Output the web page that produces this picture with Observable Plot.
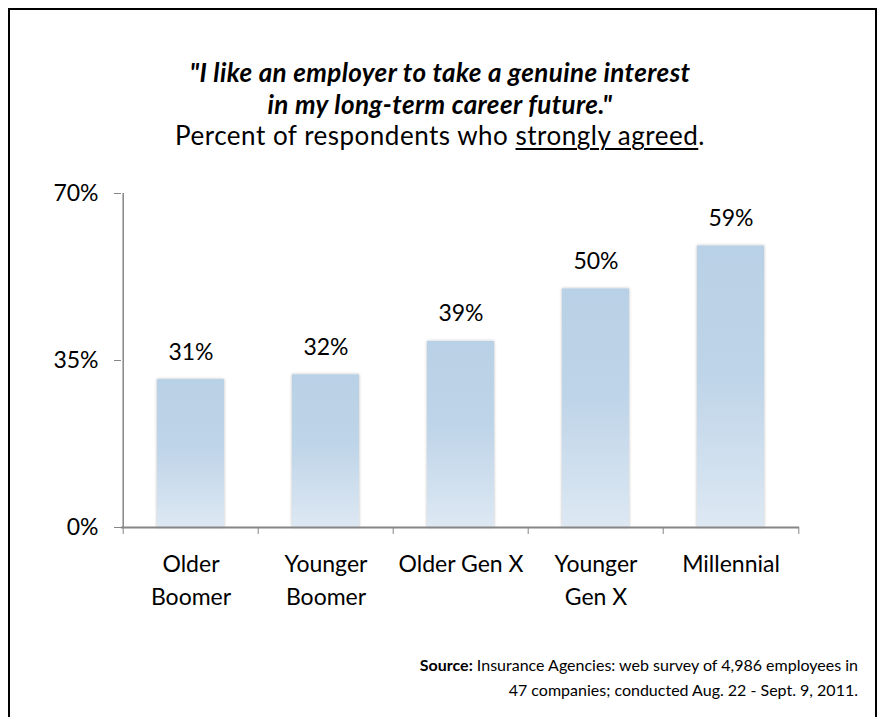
<!DOCTYPE html>
<html>
<head>
<meta charset="utf-8">
<script src="https://cdn.jsdelivr.net/npm/d3@7"></script>
<script src="https://cdn.jsdelivr.net/npm/@observablehq/plot@0.6"></script>
<style>
  html, body { margin: 0; padding: 0; background: #fff; }
  body { width: 880px; height: 717px; position: relative; overflow: hidden; font-family: Lato, "Open Sans", sans-serif; color: #000; }
  #frame { position: absolute; left: 8px; top: 8px; width: 869px; height: 720px; border: 2px solid #000; box-sizing: border-box; }
  .t { position: absolute; left: 0; width: 880px; text-align: center; white-space: nowrap; line-height: 31.5px; }
  #title { top: 57px; font-weight: bold; font-style: italic; font-size: 26px; letter-spacing: 0.4px; }
  #subtitle { top: 120px; font-size: 26px; letter-spacing: 0.5px; }
  #subtitle u { text-decoration-thickness: 1.5px; text-underline-offset: 3px; }
  #chart { position: absolute; left: 0; top: 160px; }
  #source { position: absolute; right: 22px; top: 652px; text-align: right; font-size: 16px; line-height: 25px; }
</style>
</head>
<body>
<div id="frame"></div>
<div class="t" id="title">"I like an employer to take a genuine interest<br>in my long-term career future."</div>
<div class="t" id="subtitle">Percent of respondents who <u>strongly agreed</u>.</div>
<div id="chart"></div>
<div id="source"><b>Source:</b> Insurance Agencies: web survey of 4,986 employees in<br>47 companies; conducted Aug. 22 - Sept. 9, 2011.</div>
<script>
const categories = ["Older Boomer", "Younger Boomer", "Older Gen X", "Younger Gen X", "Millennial"];
const categoryLabels = ["Older\nBoomer", "Younger\nBoomer", "Older Gen X", "Younger\nGen X", "Millennial"];
const values = [31, 32, 39, 50, 59];
const yTicks = [0, 35, 70];

const data = categories.map((c, i) => ({category: c, value: values[i]}));
const labelOf = new Map(categories.map((c, i) => [c, categoryLabels[i]]));

const W = 880, H = 480, ML = 121, MR = 81, MT = 33, MB = 113;
const step = (W - ML - MR) / categories.length;
const axisColor = "#868686";

const defs = () => {
  const d = d3.create("svg:defs");
  const g = d.append("linearGradient").attr("id", "barGrad").attr("x1", 0).attr("y1", 0).attr("x2", 0).attr("y2", 1);
  g.append("stop").attr("offset", "0%").attr("stop-color", "#b9d1e6");
  g.append("stop").attr("offset", "45%").attr("stop-color", "#bed4e8");
  g.append("stop").attr("offset", "100%").attr("stop-color", "#dde8f3");
  const f = d.append("filter").attr("id", "barShadow").attr("x", "-20%").attr("y", "-5%").attr("width", "140%").attr("height", "110%");
  f.append("feDropShadow").attr("dx", 0).attr("dy", 0).attr("stdDeviation", 1.6).attr("flood-color", "#000").attr("flood-opacity", 0.28);
  return d.node();
};

const chart = Plot.plot({
  width: W,
  height: H,
  marginLeft: ML,
  marginRight: MR,
  marginTop: MT,
  marginBottom: MB,
  style: {fontFamily: "Lato, 'Open Sans', sans-serif", fontSize: "23px", color: "#000", background: "transparent", overflow: "visible"},
  x: {domain: categories, padding: 0, axis: null},
  y: {domain: [0, 70], axis: null},
  marks: [
    defs,
    Plot.barY(data, {x: "category", y: "value", fill: "url(#barGrad)", insetLeft: 34, insetRight: 34}),
    Plot.ruleY([0], {stroke: axisColor, strokeWidth: 2}),
    Plot.ruleX([categories[0]], {y1: 0, y2: 70, dx: -step / 2, stroke: axisColor, strokeWidth: 1.5}),
    Plot.axisY(yTicks, {anchor: "left", label: null, tickSize: 7, tickPadding: 16, stroke: axisColor, fill: "#000", tickFormat: d => d + "%", fontSize: 23}),
    Plot.axisX(categories, {anchor: "bottom", label: null, tickSize: 7, dx: -step / 2, tickFormat: () => "", stroke: axisColor}),
    Plot.axisX([categories[categories.length - 1]], {anchor: "bottom", label: null, tickSize: 7, dx: step / 2, tickFormat: () => "", stroke: axisColor}),
    Plot.axisX(categories, {anchor: "bottom", label: null, tickSize: 0, tickPadding: 21, tickFormat: c => labelOf.get(c), lineHeight: 1.43, fill: "#000", fontSize: 23}),
    Plot.text(data, {x: "category", y: "value", text: d => d.value + "%", dy: -20, fontSize: 23, fill: "#000", lineAnchor: "bottom"})
  ]
});

d3.select(chart).selectAll("rect").filter(function() { return d3.select(this).attr("fill") === "url(#barGrad)" || (this.parentNode && d3.select(this.parentNode).attr("fill") === "url(#barGrad)"); }).attr("filter", "url(#barShadow)");
document.getElementById("chart").appendChild(chart);
</script>
</body>
</html>
